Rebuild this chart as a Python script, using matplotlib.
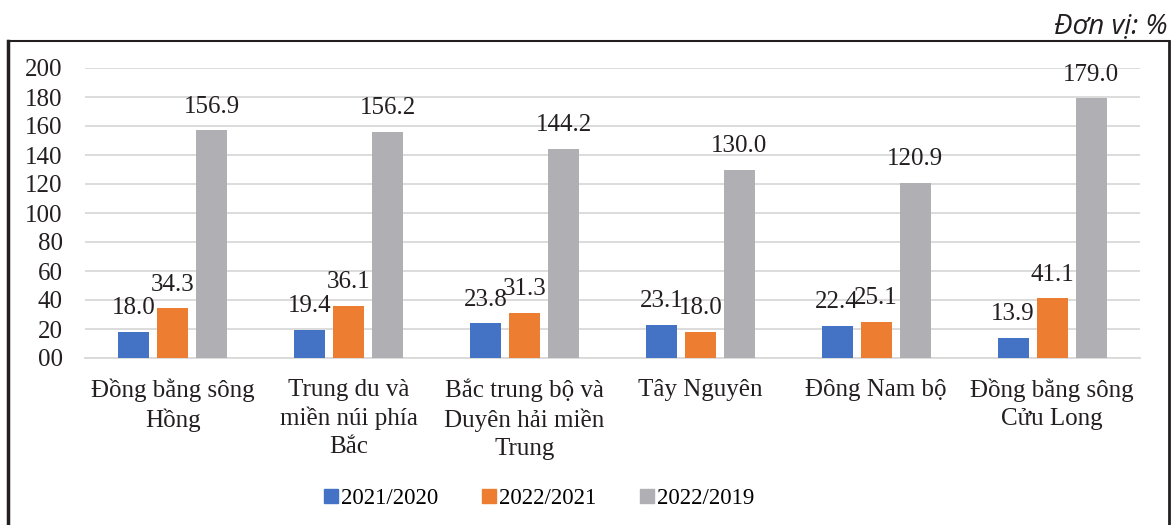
import numpy as np
import matplotlib
matplotlib.use("Agg")
import matplotlib.pyplot as plt
from matplotlib.lines import Line2D

# data
categories = ["Đồng bằng sông\nHồng", "Trung du và\nmiền núi phía\nBắc",
              "Bắc trung bộ và\nDuyên hải miền\nTrung", "Tây Nguyên",
              "Đông Nam bộ", "Đồng bằng sông\nCửu Long"]
series_names = ["2021/2020", "2022/2021", "2022/2019"]
v_2021_2020 = [18.0, 19.4, 23.8, 23.1, 22.4, 13.9]
v_2022_2021 = [34.3, 36.1, 31.3, 18.0, 25.1, 41.1]
v_2022_2019 = [156.9, 156.2, 144.2, 130.0, 120.9, 179.0]
yticks = [0, 20, 40, 60, 80, 100, 120, 140, 160, 180, 200]
ytick_labels = ["00", "20", "40", "60", "80", "100", "120", "140", "160", "180", "200"]

colors = ["#4472C4", "#ED7D31", "#B0B0B4"]
serif = "Liberation Serif"
fs = 18

fig = plt.figure(figsize=(11.76, 5.25), dpi=100)
ax = fig.add_axes([85/1176, 1 - 358/525, (1140-85)/1176, 290/525])

x = np.arange(len(categories))
w = 0.176
step = 0.222
all_vals = [v_2021_2020, v_2022_2021, v_2022_2019]
for i, vals in enumerate(all_vals):
    bars = ax.bar(x + (i - 1) * step, vals, width=w, color=colors[i],
                  label=series_names[i], zorder=3)
    ax.bar_label(bars, labels=["%.1f" % v for v in vals], padding=9,
                 fontsize=fs, family=serif, color="#231F20")

ax.set_xlim(-0.5, len(categories) - 0.5)
ax.set_ylim(0, 200)
ax.set_yticks(yticks)
ax.set_yticklabels(ytick_labels, family=serif, fontsize=fs, color="#231F20")
ax.set_xticks(x)
ax.set_xticklabels(categories, family=serif, fontsize=fs, color="#231F20",
                   linespacing=1.33, va="top")
ax.tick_params(axis="both", length=0)
ax.tick_params(axis="y", pad=16)
ax.tick_params(axis="x", pad=15)
ax.grid(axis="y", color="#D9D9D9", linewidth=1.3, zorder=0)
for s in ["top", "right", "left"]:
    ax.spines[s].set_visible(False)
ax.spines["bottom"].set_color("#D9D9D9")
ax.spines["bottom"].set_linewidth(1.3)

# legend with square markers
handles = [Line2D([], [], marker="s", linestyle="none", markersize=10,
                  markerfacecolor=c, markeredgecolor=c) for c in colors]
fig.legend(handles, series_names, loc="center", bbox_to_anchor=(0.458, 0.05),
           ncol=3, frameon=False, prop={"family": serif, "size": 16.5},
           handletextpad=0.1, columnspacing=1.85, handlelength=0.7)

# outer frame
fig.add_artist(Line2D([9/1176, 1169/1176], [1 - 41/525, 1 - 41/525],
                      color="#231F20", linewidth=1.5, transform=fig.transFigure))
fig.add_artist(Line2D([8/1176, 8/1176], [0, 1 - 41/525],
                      color="#231F20", linewidth=2.5, transform=fig.transFigure))
fig.add_artist(Line2D([1169/1176, 1169/1176], [0, 1 - 41/525],
                      color="#231F20", linewidth=2, transform=fig.transFigure))

fig.text(1168/1176, 1 - 33/525, "Đơn vị: %", ha="right", va="baseline",
         fontsize=20, style="italic", family="Open Sans", color="#231F20")

fig.savefig("out.png", dpi=100)
